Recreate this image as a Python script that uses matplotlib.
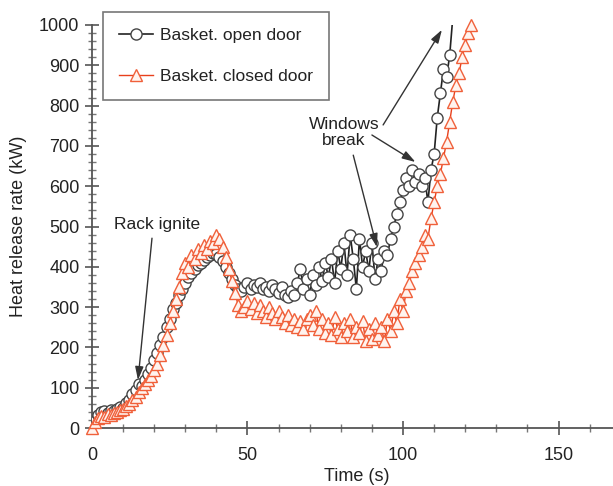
import numpy as np
import matplotlib
matplotlib.use("Agg")
import matplotlib.pyplot as plt
from matplotlib.ticker import MultipleLocator

plt.rcParams['font.family'] = ['Liberation Sans', 'DejaVu Sans']

# open door, one reading per second from t=0
open_hrr = [0, 18, 32, 40, 42, 38, 45, 43, 48, 52,
            50, 62, 70, 85, 95, 110, 105, 120, 135, 150,
            170, 185, 205, 225, 250, 270, 295, 310, 330, 345,
            360, 375, 385, 395, 405, 410, 418, 425, 430, 435,
            432, 425, 415, 400, 385, 370, 355, 345, 340, 350,
            360, 345, 355, 350, 360, 345, 350, 340, 355, 345,
            335, 350, 330, 325, 340, 330, 360, 395, 345, 370,
            330, 380, 355, 400, 365, 410, 375, 420, 360, 440,
            395, 460, 380, 480, 420, 345, 470, 400, 440, 390,
            460, 370, 420, 390, 440, 430, 470, 500, 530, 560,
            590, 620, 600, 640, 610, 630, 600, 620, 560, 640,
            680, 770, 830, 890, 870, 925]
open_t = list(np.arange(len(open_hrr), dtype=float))
# line runs off the top after the last marker
open_t_end, open_hrr_end = 115.8, 1000

# closed door, one reading per second from t=0
closed_hrr = [0, 15, 25, 30, 28, 35, 32, 38, 40, 45,
              48, 55, 60, 70, 78, 90, 100, 110, 120, 130,
              145, 160, 180, 205, 230, 260, 290, 320, 350, 385,
              410, 400, 430, 420, 445, 435, 455, 445, 465, 460,
              480, 470, 450, 425, 395, 365, 335, 305, 290, 300,
              315, 295, 310, 285, 305, 290, 275, 300, 285, 270,
              290, 275, 260, 280, 255, 270, 250, 265, 245, 270,
              280, 255, 290, 245, 270, 235, 260, 230, 275, 245,
              225, 260, 240, 270, 225, 250, 235, 265, 215, 245,
              220, 260, 230, 250, 215, 270, 240, 290, 260, 320,
              290, 340, 360, 390, 410, 430, 450, 480, 470, 520,
              560, 600, 630, 670, 710, 760, 810, 850, 880, 920,
              950, 980, 1000]
closed_t = np.arange(len(closed_hrr), dtype=float)

labels = ["Basket. open door", "Basket. closed door"]
txt = '#222222'

fig = plt.figure(figsize=(6.13, 4.86), dpi=100)
ax = fig.add_axes([0.150, 0.1193, 0.850, 0.8293])

ax.plot(open_t + [open_t_end], open_hrr + [open_hrr_end], color='#222222', lw=1.2,
        marker='o', ms=8, mfc='white', mec='#444444', mew=1.0,
        markevery=slice(0, len(open_hrr)), label=labels[0], zorder=3)
ax.plot(closed_t, closed_hrr, color='#e8401c', lw=1.0,
        marker='^', ms=9, mfc='#fff3ee', mec='#f0603a', mew=1.0,
        label=labels[1], zorder=4, clip_on=False)

ax.set_xlim(0, 167.5)
ax.set_ylim(0, 1000)
ax.xaxis.set_major_locator(MultipleLocator(50))
ax.xaxis.set_minor_locator(MultipleLocator(10))
ax.yaxis.set_major_locator(MultipleLocator(100))
ax.yaxis.set_minor_locator(MultipleLocator(20))

for s in ['top', 'right']:
    ax.spines[s].set_visible(False)
for s in ['left', 'bottom']:
    ax.spines[s].set_color('#555555')
    ax.spines[s].set_linewidth(1.3)

ax.tick_params(which='major', direction='inout', length=10, width=1.2,
               color='#555555', labelsize=13, labelcolor=txt)
ax.tick_params(which='minor', direction='inout', length=6, width=1.0, color='#777777')
ax.tick_params(axis='x', which='major', pad=9)
ax.tick_params(axis='y', which='major', pad=4)

ax.set_xlabel("Time (s)", fontsize=13, color=txt)
ax.set_ylabel("Heat release rate (kW)", fontsize=13, color=txt)
ax.xaxis.set_label_coords(0.509, -0.1)
ax.yaxis.set_label_coords(-0.125, 0.5)

leg = ax.legend(loc='upper left', bbox_to_anchor=(0.021, 1.032), fontsize=12.5,
                frameon=True, fancybox=False, edgecolor='#555555',
                labelspacing=1.5, handlelength=2.0, handletextpad=0.4,
                borderpad=0.9, borderaxespad=0)
leg.get_frame().set_linewidth(1.2)
for t in leg.get_texts():
    t.set_color(txt)

arrow = dict(arrowstyle='-|>,head_length=0.8,head_width=0.25', color='#333333',
             lw=1.0, shrinkA=0, shrinkB=0)

ax.annotate("Rack ignite", xy=(14.8, 119), xytext=(21, 504), fontsize=12.5,
            color=txt, ha='center', va='center', zorder=6)
ax.annotate("", xy=(14.8, 119), xytext=(19.3, 471), arrowprops=arrow, zorder=6)

ax.annotate("Windows\nbreak", xy=(81, 734), xytext=(81, 734), fontsize=12.5,
            color=txt, ha='center', va='center', linespacing=1.1, zorder=6)
ax.annotate("", xy=(112.5, 988), xytext=(93.6, 752), arrowprops=arrow, zorder=6)
ax.annotate("", xy=(104, 660), xytext=(90, 727), arrowprops=arrow, zorder=6)
ax.annotate("", xy=(91.6, 449), xytext=(84, 677), arrowprops=arrow, zorder=6)

fig.savefig("out.png", dpi=100)
